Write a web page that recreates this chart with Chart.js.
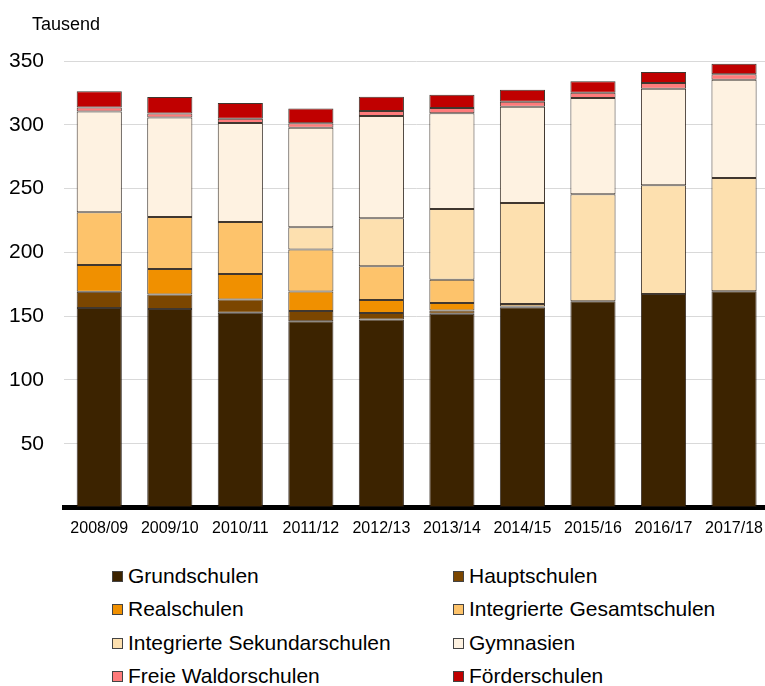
<!DOCTYPE html>
<html>
<head>
<meta charset="utf-8">
<script src="https://cdn.jsdelivr.net/npm/chart.js@4"></script>
<style>
html,body{margin:0;padding:0;background:#fff;overflow:hidden;width:765px;height:686px;}
#wrap{position:relative;width:765px;height:686px;overflow:hidden;font-family:"Liberation Sans",Arial,sans-serif;}
#c{position:absolute;left:0;top:0;width:774px;height:545px;}
#unit{position:absolute;left:32px;top:14px;font-size:18px;line-height:21px;color:#000;}
.li{position:absolute;height:24px;line-height:24px;font-size:21px;color:#000;white-space:nowrap;}
.li span.b{position:absolute;left:0;top:7px;width:9px;height:9px;border:1px solid #444;}
.li span.t{position:absolute;left:16px;top:0;}
</style>
</head>
<body>
<div id="wrap">
<canvas id="c" width="774" height="545"></canvas>
<div id="unit">Tausend</div>
<div id="legend"></div>
</div>
<script>
const categories = ["2008/09","2009/10","2010/11","2011/12","2012/13","2013/14","2014/15","2015/16","2016/17","2017/18"];
const seriesNames = ["Grundschulen","Hauptschulen","Realschulen","Integrierte Gesamtschulen","Integrierte Sekundarschulen","Gymnasien","Freie Waldorschulen","Förderschulen"];
const grundschulen = [156.4,155.6,152.7,146.0,147.3,151.8,156.9,161.6,167.3,169.6];
const hauptschulen = [12.7,11.4,10.4,8.0,5.2,2.7,0,0,0,0];
const realschulen = [20.9,19.9,19.9,15.4,10.2,5.8,0.6,0,0,0];
const gesamtschulen = [41.4,40.8,40.8,32.9,26.5,18.2,2.0,0,0,0];
const sekundarschulen = [0,0,0,17.4,37.5,55.5,79.2,83.9,85.4,88.6];
const gymnasien = [79.1,78.1,77.6,77.9,80.2,75.0,75.5,75.5,75.6,77.1];
const waldorfschulen = [3.1,3.1,3.4,3.6,3.9,4.1,3.9,4.2,4.4,4.4];
const foerderschulen = [12.6,12.8,12.2,11.5,11.2,10.5,9.4,9.0,8.6,8.1];
const yTicks = [50,100,150,200,250,300,350];

const colors = ["#3c2300","#7b4600","#f09000","#fdc36b","#fde0af","#fef2e1","#ff7b7b","#c00000"];
const seriesData = [grundschulen,hauptschulen,realschulen,gesamtschulen,sekundarschulen,gymnasien,waldorfschulen,foerderschulen];

const datasets = seriesNames.map((n,i)=>({
  label:n,
  data: seriesData[i].map(v=> v===0 ? null : v),
  backgroundColor: colors[i],
  borderColor: "rgba(30,20,10,0.85)",
  borderWidth: 1,
  borderSkipped: false,
  barPercentage: 0.64,
  categoryPercentage: 1.0
}));

new Chart(document.getElementById('c'), {
  type:'bar',
  data:{labels:categories, datasets},
  options:{
    responsive:false,
    animation:false,
    layout:{padding:{top:61,right:1,left:0,bottom:0}},
    plugins:{legend:{display:false},tooltip:{enabled:false}},
    scales:{
      x:{
        stacked:true,
        grid:{display:false,drawTicks:false},
        border:{display:true,color:'#000',width:5},
        ticks:{color:'#000',font:{family:'"Liberation Sans", Arial, sans-serif',size:16},padding:11,maxRotation:0,autoSkip:false},
        afterFit:(s)=>{s.height=37.5;}
      },
      y:{
        stacked:true,
        min:0,max:350,
        afterBuildTicks:(s)=>{s.ticks=[0].concat(yTicks).map(v=>({value:v}));},
        grid:{color:'#d9d9d9',lineWidth:1,drawTicks:false},
        border:{display:false},
        ticks:{color:'#000',font:{family:'"Liberation Sans", Arial, sans-serif',size:21},padding:20,
          callback:(v)=> v===0 ? '' : String(v)},
        afterFit:(s)=>{s.width=64;}
      }
    }
  }
});

// HTML legend in two columns
const lg = document.getElementById('legend');
const rowsY = [576,609,643,676];
const colsX = [112,453];
seriesNames.forEach((n,i)=>{
  const d=document.createElement('div');
  d.className='li';
  d.style.left=colsX[i%2]+'px';
  d.style.top=(rowsY[Math.floor(i/2)]-12)+'px';
  const b=document.createElement('span');
  b.className='b';
  b.style.background=colors[i];
  const t=document.createElement('span');
  t.className='t';
  t.textContent=n;
  d.appendChild(b);
  d.appendChild(t);
  lg.appendChild(d);
});
</script>
</body>
</html>
